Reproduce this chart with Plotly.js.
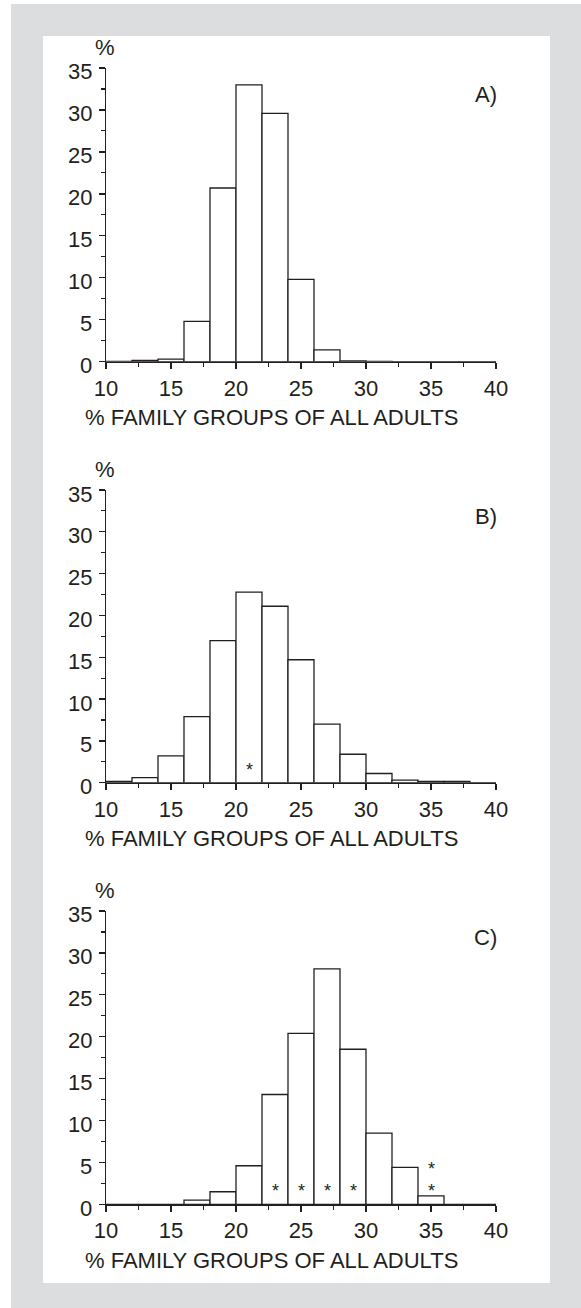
<!DOCTYPE html>
<html>
<head>
<meta charset="utf-8">
<script src="https://cdn.plot.ly/plotly-3.0.1.min.js"></script>
<style>
  html, body { margin: 0; padding: 0; background: #ffffff; }
  #chart { width: 581px; height: 1308px; }
</style>
</head>
<body>
<div id="chart"></div>
<script>
// ---- data ----
const binCenters = [11, 13, 15, 17, 19, 21, 23, 25, 27, 29, 31, 33, 35, 37, 39];
const panelA = [0.05, 0.15, 0.3, 4.8, 20.7, 33.0, 29.6, 9.8, 1.4, 0.1, 0.05, 0, 0, 0, 0];
const panelB = [0.15, 0.6, 3.2, 7.9, 17.0, 22.8, 21.1, 14.7, 7.0, 3.4, 1.1, 0.3, 0.15, 0.15, 0];
const panelC = [0, 0, 0, 0.5, 1.5, 4.6, 13.1, 20.4, 28.1, 18.5, 8.5, 4.4, 1.0, 0, 0];
const panelLabels = ["A)", "B)", "C)"];
const starsBx = [21];
const starsBy = [2.0];
const starsCx = [23, 25, 27, 29, 35, 35];
const starsCy = [2.1, 2.1, 2.1, 2.1, 2.1, 4.7];
const xTickVals = [10, 15, 20, 25, 30, 35, 40];
const yTickVals = [0, 5, 10, 15, 20, 25, 30, 35];
const xTitle = "% FAMILY GROUPS OF ALL ADULTS";
const yUnit = "%";

// ---- layout helpers (pixel geometry) ----
const W = 581, H = 1308;
const px = x => x / W;
const py = y => 1 - y / H;
const FONT = "Liberation Sans, Arial, Helvetica, sans-serif";
const INK = "#231f20";
const axisLeft = 106, axisRight = 496;
const bottoms = [361.7, 782.7, 1204.3];
const tops = [68, 490, 911];

const series = [panelA, panelB, panelC];
const traces = series.map((vals, i) => ({
  type: "bar",
  x: binCenters,
  y: vals,
  width: 2,
  xaxis: i === 0 ? "x" : "x" + (i + 1),
  yaxis: i === 0 ? "y" : "y" + (i + 1),
  marker: { color: "#ffffff", line: { color: INK, width: 1.3 } },
  hoverinfo: "skip",
  showlegend: false
}));

const layout = {
  width: W, height: H,
  margin: { l: 0, r: 0, t: 0, b: 0, pad: 0 },
  paper_bgcolor: "#ffffff",
  plot_bgcolor: "rgba(0,0,0,0)",
  bargap: 0,
  showlegend: false,
  font: { family: FONT, color: INK, size: 22 },
  shapes: [
    { type: "rect", xref: "paper", yref: "paper", x0: px(11), x1: px(581), y0: py(1308), y1: py(4),
      fillcolor: "#dcdddf", line: { width: 0 }, layer: "below" },
    { type: "rect", xref: "paper", yref: "paper", x0: px(43), x1: px(550), y0: py(1283), y1: py(36),
      fillcolor: "#ffffff", line: { width: 0 }, layer: "below" }
  ],
  annotations: []
};

for (let i = 0; i < 3; i++) {
  const sx = i === 0 ? "" : String(i + 1);
  const yRef = "y" + sx;
  layout["xaxis" + sx] = {
    domain: [px(axisLeft), px(axisRight)],
    anchor: yRef,
    range: [10, 40],
    tickmode: "array", tickvals: xTickVals,
    ticks: "outside", ticklen: 6, tickwidth: 1.3, tickcolor: INK,
    minor: { tickmode: "linear", tick0: 10, dtick: 2.5, ticks: "outside", ticklen: 4, tickwidth: 1.1, tickcolor: INK, showgrid: false },
    showline: true, linecolor: INK, linewidth: 1.5,
    showgrid: false, zeroline: false,
    tickfont: { family: FONT, size: 22, color: INK },
    fixedrange: true
  };
  layout["yaxis" + sx] = {
    domain: [py(bottoms[i]), py(tops[i])],
    anchor: "x" + sx,
    range: [0, 35],
    tickmode: "array", tickvals: yTickVals,
    showticklabels: false,
    ticks: "outside", ticklen: 6, tickwidth: 1.3, tickcolor: INK,
    minor: { tickmode: "linear", tick0: 0, dtick: 2.5, ticks: "outside", ticklen: 4, tickwidth: 1.1, tickcolor: INK, showgrid: false },
    showline: true, linecolor: INK, linewidth: 1.5,
    showgrid: false, zeroline: false,
    fixedrange: true
  };
  // y tick labels (slightly below their ticks, as in the original)
  yTickVals.forEach(v => layout.annotations.push({
    xref: "paper", yref: yRef, x: px(94), y: v, xanchor: "right", yanchor: "middle",
    yshift: -4, text: String(v), showarrow: false,
    font: { family: FONT, size: 22, color: INK }
  }));
  // x axis title
  layout.annotations.push({
    xref: "paper", yref: "paper", x: px(271), y: py(bottoms[i] + 56), xanchor: "center", yanchor: "middle",
    text: xTitle, showarrow: false, font: { family: FONT, size: 22, color: INK }
  });
  // % unit label
  layout.annotations.push({
    xref: "paper", yref: "paper", x: px(105), y: py(tops[i] - 21), xanchor: "center", yanchor: "middle",
    text: yUnit, showarrow: false, font: { family: FONT, size: 22, color: INK }
  });
  // panel letter
  layout.annotations.push({
    xref: "paper", yref: "paper", x: px(499), y: py(tops[i] + 26.5), xanchor: "right", yanchor: "middle",
    text: panelLabels[i], showarrow: false, font: { family: FONT, size: 22, color: INK }
  });
}

function addStars(xs, ys, sx) {
  xs.forEach((x, k) => layout.annotations.push({
    xref: "x" + sx, yref: "y" + sx, x: x, y: ys[k], xanchor: "center", yanchor: "middle",
    yshift: -4, text: "*", showarrow: false, font: { family: FONT, size: 18, color: INK }
  }));
}
addStars(starsBx, starsBy, "2");
addStars(starsCx, starsCy, "3");

Plotly.newPlot("chart", traces, layout, { staticPlot: true, displayModeBar: false });
</script>
</body>
</html>
